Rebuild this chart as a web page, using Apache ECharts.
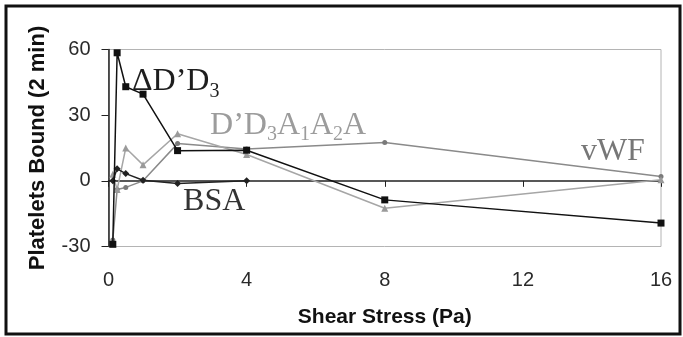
<!DOCTYPE html>
<html>
<head>
<meta charset="utf-8">
<script src="https://cdn.jsdelivr.net/npm/echarts@6/dist/echarts.min.js"></script>
<style>
html,body{margin:0;padding:0;background:#fff;}
#c{width:683px;height:337px;}
</style>
</head>
<body>
<div id="c"></div>
<script>
// Shear stress (Pa)
var shear = [0.125, 0.25, 0.5, 1, 2, 4, 8, 16];
var shearBSA = [0.125, 0.25, 0.5, 1, 2, 4];
// Platelets bound (2 min)
var dD3 = [-29, 58.5, 43, 39.6, 13.8, 14, -8.7, -19.3];
var d3a1a2a = [3, -4, 15, 7.3, 21.5, 12, -12.5, 0.5];
var vwf = [-27, -4, -3, 0, 17, 14.5, 17.5, 2];
var bsa = [0, 5.5, 3.3, 0.3, -1.2, 0];
var xTicks = [0, 4, 8, 12, 16];
var yTicks = [-30, 0, 30, 60];

function pairs(xs, ys){ return xs.map(function(x,i){ return [x, ys[i]]; }); }

var chart = echarts.init(document.getElementById('c'));
var serif = 'Liberation Serif';
var sans = 'Liberation Sans';

chart.setOption({
  animation: false,
  backgroundColor: '#fff',
  grid: {left: 108.5, right: 22, top: 49.5, bottom: 90.5, show: true, borderColor: '#b4b4b4', borderWidth: 1, backgroundColor: 'transparent'},
  xAxis: [{
    type: 'value', min: xTicks[0], max: xTicks[xTicks.length-1], interval: 4, position: 'bottom',
    axisLine: {show: false, onZero: false}, axisTick: {show: false}, splitLine: {show: false},
    axisLabel: {fontFamily: sans, fontSize: 20, color: '#2a2a2a', margin: 24},
    name: 'Shear Stress (Pa)', nameLocation: 'middle', nameGap: 60,
    nameTextStyle: {fontFamily: sans, fontSize: 21, fontWeight: 'bold', color: '#111'}
  }, {
    type: 'value', min: xTicks[0], max: xTicks[xTicks.length-1], interval: 4, position: 'bottom',
    axisLine: {show: true, onZero: true, onZeroAxisIndex: 0, lineStyle: {color: '#222', width: 1.5}},
    axisTick: {show: true, inside: false, length: 6, lineStyle: {color: '#222', width: 1}},
    axisLabel: {show: false}, splitLine: {show: false}
  }],
  yAxis: {
    type: 'value', min: yTicks[0], max: yTicks[yTicks.length-1], interval: 30,
    axisLine: {show: true, onZero: false, lineStyle: {color: '#222', width: 1.5}},
    axisTick: {show: true, inside: false, length: 7, lineStyle: {color: '#222', width: 1}},
    splitLine: {show: false},
    axisLabel: {fontFamily: sans, fontSize: 20, color: '#2a2a2a', margin: 18},
    name: 'Platelets Bound (2 min)', nameLocation: 'middle', nameGap: 60, nameRotate: 90,
    nameTextStyle: {fontFamily: sans, fontSize: 22, fontWeight: 'bold', color: '#111'}
  },
  series: [{
    name: 'vWF', type: 'line', data: pairs(shear, vwf), xAxisIndex: 0,
    symbol: 'circle', symbolSize: 5, lineStyle: {color: '#8a8a8a', width: 1.5},
    itemStyle: {color: '#7a7a7a'}, z: 2
  }, {
    name: "D'D3A1A2A", type: 'line', data: pairs(shear, d3a1a2a), xAxisIndex: 0,
    symbol: 'triangle', symbolSize: 7, lineStyle: {color: '#a6a6a6', width: 1.5},
    itemStyle: {color: '#9a9a9a'}, z: 3
  }, {
    name: 'BSA', type: 'line', data: pairs(shearBSA, bsa), xAxisIndex: 0,
    symbol: 'diamond', symbolSize: 7, lineStyle: {color: '#222', width: 1.5},
    itemStyle: {color: '#222'}, z: 4
  }, {
    name: "ΔD'D3", type: 'line', data: pairs(shear, dD3), xAxisIndex: 0,
    symbol: 'rect', symbolSize: 7, lineStyle: {color: '#111', width: 1.5},
    itemStyle: {color: '#111'}, z: 5
  }]
});

// annotation anchors in data coordinates (left, baseline)
var notes = [
  {at: [0.68, 39.5], text: '{m|ΔD’D}{s|3}', color: '#1e1e1e'},
  {at: [2.94, 19.5], text: '{m|D’D}{s|3}{m|A}{s|1}{m|A}{s|2}{m|A}', color: '#9c9c9c'},
  {at: [13.68, 7.2], text: '{m|vWF}', color: '#777'},
  {at: [2.16, -15.5], text: '{m|BSA}', color: '#333'}
];
var g = [{
  type: 'rect', shape: {x: 6, y: 6, width: 674, height: 328},
  style: {fill: 'none', stroke: '#111', lineWidth: 3}, z: 100
}];
notes.forEach(function(n){
  var p = chart.convertToPixel({xAxisIndex: 0, yAxisIndex: 0}, n.at);
  g.push({
    type: 'text', x: p[0], y: p[1] + 7, z: 50,
    style: {
      text: n.text, align: 'left', verticalAlign: 'bottom',
      rich: {
        m: {fontFamily: serif, fontSize: 32, lineHeight: 36, verticalAlign: 'top', fill: n.color, color: n.color},
        s: {fontFamily: serif, fontSize: 20, lineHeight: 20, verticalAlign: 'bottom', fill: n.color, color: n.color}
      },
      fill: n.color
    }
  });
});
chart.setOption({graphic: g});
</script>
</body>
</html>
